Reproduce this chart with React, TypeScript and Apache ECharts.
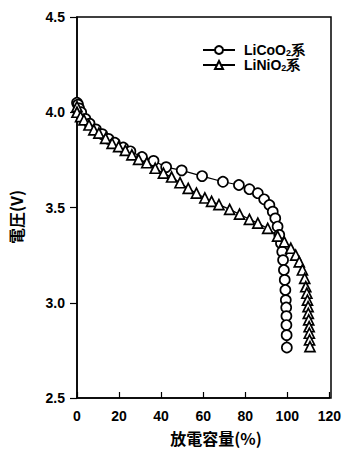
import React, { useEffect, useRef } from "react";
import * as echarts from "echarts";

const licooX = [0, 0.5, 1, 2, 4, 6, 9, 12, 15, 18, 22, 25.4, 30.9, 36.4, 42.4, 49.8, 59.5, 69.4, 77, 82, 86, 89, 91.5, 93.1, 94.3, 95.4, 96.2, 97, 97.6, 98, 98.4, 98.8, 99.1, 99.3, 99.5, 99.6, 99.6, 99.7, 99.8];
const licooY = [4.05, 4.04, 4.02, 4.0, 3.965, 3.94, 3.91, 3.885, 3.86, 3.84, 3.815, 3.795, 3.765, 3.745, 3.712, 3.695, 3.665, 3.635, 3.618, 3.596, 3.575, 3.543, 3.513, 3.478, 3.443, 3.4, 3.356, 3.312, 3.268, 3.224, 3.172, 3.12, 3.067, 3.014, 2.975, 2.93, 2.883, 2.83, 2.765];

const linioX = [0, 0, 1.7, 3.3, 5.7, 8, 10.4, 13.6, 16.7, 19.8, 23, 26.1, 29.3, 33.2, 37.2, 41.1, 45, 49, 52.9, 56.8, 60.8, 64, 67.5, 72.6, 77.3, 82, 86, 90.7, 95.4, 98.6, 101.7, 104, 105.7, 107.2, 108.3, 108.8, 109.3, 109.6, 109.9, 110, 110.2, 110.4, 110.5, 110.6, 110.8];
const linioY = [4.03, 4.0, 3.977, 3.96, 3.933, 3.907, 3.89, 3.863, 3.837, 3.82, 3.8, 3.776, 3.753, 3.735, 3.706, 3.68, 3.66, 3.63, 3.6, 3.575, 3.55, 3.532, 3.515, 3.49, 3.465, 3.438, 3.418, 3.39, 3.35, 3.32, 3.286, 3.25, 3.215, 3.172, 3.128, 3.084, 3.05, 3.014, 2.98, 2.944, 2.91, 2.874, 2.84, 2.805, 2.77];

const seriesNames = ["LiCoO{s|2}系", "LiNiO{s|2}系"];
const xTicks = [0, 20, 40, 60, 80, 100, 120];
const yTicks = [2.5, 3.0, 3.5, 4.0, 4.5];

const FONT = "'Liberation Sans', Arial, sans-serif";

export default function App() {
  const ref = useRef<HTMLDivElement>(null);
  useEffect(() => {
    const chart = echarts.init(ref.current!, null, { renderer: "svg" });
    const pair = (xs: number[], ys: number[]) => xs.map((x, i) => [x, ys[i]]);
    chart.setOption({
      animation: false,
      backgroundColor: "#fff",
      grid: { left: 77, right: 13, top: 17, bottom: 55, show: false },
      legend: {
        orient: "vertical",
        left: 197,
        top: 38,
        itemWidth: 32,
        itemHeight: 10,
        itemGap: 1,
        data: seriesNames,
        textStyle: {
          fontFamily: FONT,
          fontWeight: "bold",
          fontSize: 14,
          lineHeight: 14,
          color: "#000",
          padding: [0, 0, 0, 4],
          rich: {
            s: { fontFamily: FONT, fontWeight: "bold", fontSize: 9, lineHeight: 14, verticalAlign: "bottom", padding: [5, 0, 0, 0] },
          },
        },
      },
      xAxis: {
        type: "value",
        min: 0,
        max: 120,
        interval: 20,
        axisLine: { show: true, onZero: false, lineStyle: { color: "#000", width: 1.5 } },
        axisTick: { show: true, inside: true, length: 6, lineStyle: { color: "#000", width: 1.2 } },
        axisLabel: { color: "#000", fontFamily: FONT, fontWeight: "bold", fontSize: 14, margin: 11, formatter: (v: number) => (xTicks.includes(v) ? String(v) : "") },
        splitLine: { show: false },
      },
      yAxis: {
        type: "value",
        min: 2.5,
        max: 4.5,
        interval: 0.5,
        axisLine: { show: true, onZero: false, lineStyle: { color: "#000", width: 1.5 } },
        axisTick: { show: true, length: 7, lineStyle: { color: "#000", width: 1.2 } },
        axisLabel: { color: "#000", fontFamily: FONT, fontWeight: "bold", fontSize: 14, margin: 12, formatter: (v: number) => (yTicks.includes(v) ? v.toFixed(1) : "") },
        splitLine: { show: false },
      },
      graphic: [
        { type: "rect", shape: { x: 77, y: 17, width: 254, height: 381 }, style: { fill: "none", stroke: "#000", lineWidth: 1.5 }, silent: true, z: 0 },
        { type: "text", x: 216, y: 438, style: { text: "放電容量(%)", font: `bold 16px 'Noto Sans CJK JP', ${FONT}`, fill: "#000", align: "center", verticalAlign: "middle" } },
        { type: "text", x: 16, y: 217, rotation: Math.PI / 2, style: { text: "電圧(V)", font: `bold 16px 'Noto Sans CJK JP', ${FONT}`, fill: "#000", align: "center", verticalAlign: "middle" } },
      ],
      series: [
        {
          name: seriesNames[0],
          type: "line",
          data: pair(licooX, licooY),
          symbol: "circle",
          symbolSize: 10,
          showAllSymbol: true,
          lineStyle: { color: "#000", width: 1.2 },
          itemStyle: { color: "#fff", borderColor: "#000", borderWidth: 1.7 },
          z: 3,
        },
        {
          name: seriesNames[1],
          type: "line",
          data: pair(linioX, linioY),
          symbol: "triangle",
          symbolSize: 10,
          showAllSymbol: true,
          lineStyle: { color: "#000", width: 1.2 },
          itemStyle: { color: "#fff", borderColor: "#000", borderWidth: 1.7 },
          z: 4,
        },
      ],
    });
    return () => chart.dispose();
  }, []);
  return <div ref={ref} style={{ width: 344, height: 453, position: "absolute", left: 0, top: 0 }} />;
}
